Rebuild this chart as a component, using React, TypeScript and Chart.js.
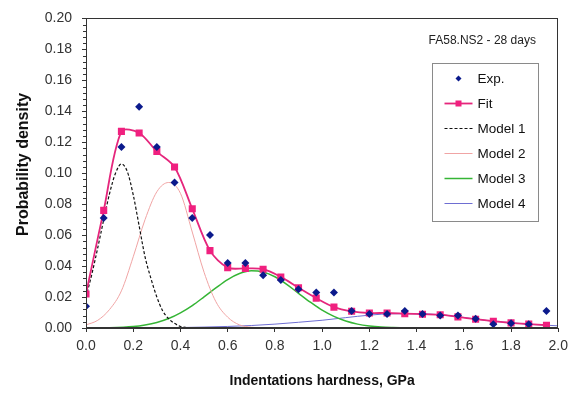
import React, { useEffect, useRef } from 'react';
import { Chart, registerables } from 'chart.js';

Chart.register(...registerables);

// ---------- data ----------
const PANEL_TITLE = 'FA58.NS2 - 28 days';
const X_TITLE = 'Indentations hardness, GPa';
const Y_TITLE = 'Probability density';

const EXP_X = [0, 0.075, 0.15, 0.225, 0.3, 0.375, 0.45, 0.525, 0.6, 0.675, 0.75, 0.825, 0.9, 0.975, 1.05, 1.125, 1.2, 1.275, 1.35, 1.425, 1.5, 1.575, 1.65, 1.725, 1.8, 1.875, 1.95];
const EXP_Y = [0.014, 0.071, 0.117, 0.143, 0.117, 0.094, 0.071, 0.060, 0.042, 0.042, 0.034, 0.031, 0.025, 0.023, 0.023, 0.011, 0.009, 0.009, 0.011, 0.009, 0.008, 0.008, 0.006, 0.0025, 0.003, 0.0025, 0.011];
const FIT_Y = [0.022, 0.076, 0.127, 0.126, 0.114, 0.104, 0.077, 0.050, 0.039, 0.0385, 0.038, 0.033, 0.026, 0.0193, 0.0135, 0.0108, 0.0097, 0.0097, 0.0093, 0.0089, 0.0086, 0.0072, 0.0057, 0.0044, 0.0033, 0.0025, 0.0018];

const M1_X = [0, 0.025, 0.05, 0.075, 0.1, 0.125, 0.15, 0.175, 0.2, 0.225, 0.25, 0.275, 0.3, 0.325, 0.35, 0.375, 0.4, 0.425, 0.45];
const M1_Y = [0.02, 0.035, 0.052, 0.07, 0.087, 0.1, 0.106, 0.101, 0.086, 0.066, 0.046, 0.032, 0.02, 0.011, 0.006, 0.003, 0.001, 0.0003, 0];

const M2_X = [0, 0.05, 0.1, 0.15, 0.2, 0.25, 0.3, 0.35, 0.4, 0.45, 0.5, 0.55, 0.6, 0.65, 0.7, 0.75];
const M2_Y = [0.002, 0.005, 0.012, 0.024, 0.046, 0.070, 0.088, 0.094, 0.087, 0.062, 0.036, 0.017, 0.007, 0.002, 0.0005, 0];

const M3_X = [0, 0.1, 0.2, 0.25, 0.3, 0.35, 0.4, 0.45, 0.5, 0.55, 0.6, 0.65, 0.7, 0.75, 0.8, 0.85, 0.9, 0.95, 1.0, 1.05, 1.1, 1.15, 1.2, 1.25, 1.3, 1.4, 1.6, 2.0];
const M3_Y = [0, 0.0002, 0.001, 0.002, 0.0036, 0.0061, 0.0098, 0.0145, 0.0201, 0.0259, 0.0313, 0.0352, 0.037, 0.0362, 0.0331, 0.0282, 0.0224, 0.0167, 0.0115, 0.0075, 0.0045, 0.0025, 0.0013, 0.0006, 0.0003, 0, 0, 0];

const M4_X = [0, 0.2, 0.4, 0.5, 0.6, 0.7, 0.8, 0.9, 1.0, 1.1, 1.2, 1.3, 1.4, 1.5, 1.6, 1.7, 1.8, 1.9, 2.0];
const M4_Y = [0, 0.0001, 0.0003, 0.0006, 0.001, 0.0016, 0.0025, 0.0037, 0.005, 0.0067, 0.0083, 0.0092, 0.0092, 0.0086, 0.0068, 0.0048, 0.0033, 0.0022, 0.0014];

const SERIES_LABELS = ['Exp.', 'Fit', 'Model 1', 'Model 2', 'Model 3', 'Model 4'];

const X_MIN = 0, X_MAX = 2, X_STEP = 0.2;
const Y_MIN = 0, Y_MAX = 0.2, Y_STEP = 0.02, Y_MINOR = 0.004;

// ---------- styling ----------
const FONT = '"Liberation Sans", Arial, sans-serif';
const AXIS = '#333333';
const EXP_COLOR = '#0b1a8c';
const FIT_LINE = '#e5267c';
const FIT_POINT = '#f0207f';
const M1_COLOR = '#111111';
const M2_COLOR = '#f0a4a4';
const M3_COLOR = '#35b535';
const M4_COLOR = '#6e6ed2';

const zip = (xs: number[], ys: number[]) => xs.map((x, i) => ({ x, y: ys[i] }));

const overlayPlugin = {
  id: 'overlay',
  afterDatasetsDraw(chart: any) {
    const { ctx, chartArea } = chart;
    const ys = chart.scales.y;
    ctx.save();
    // plot-area frame
    ctx.strokeStyle = AXIS;
    ctx.lineWidth = 1;
    ctx.strokeRect(Math.round(chartArea.left) + 0.5, Math.round(chartArea.top) + 0.5,
      Math.round(chartArea.right - chartArea.left) - 1, Math.round(chartArea.bottom - chartArea.top) - 1);
    // minor y ticks
    ctx.beginPath();
    for (let v = Y_MIN + Y_MINOR; v < Y_MAX - 1e-9; v += Y_MINOR) {
      const r = v / Y_STEP;
      if (Math.abs(r - Math.round(r)) < 1e-6) continue;
      const py = Math.round(ys.getPixelForValue(v)) + 0.5;
      ctx.moveTo(chartArea.left - 3, py);
      ctx.lineTo(chartArea.left, py);
    }
    ctx.stroke();
    // y-axis title
    ctx.save();
    ctx.translate(24, chartArea.top + 146);
    ctx.rotate(-Math.PI / 2);
    ctx.fillStyle = '#111';
    ctx.font = `bold 16px ${FONT}`;
    ctx.textAlign = 'center';
    ctx.textBaseline = 'middle';
    ctx.fillText(Y_TITLE, 0, 0);
    ctx.restore();
    // panel title
    ctx.fillStyle = '#222';
    ctx.font = `12px ${FONT}`;
    ctx.textAlign = 'center';
    ctx.textBaseline = 'middle';
    ctx.fillText(PANEL_TITLE, chartArea.right - 76, chartArea.top + 22);
    // legend
    const bx = Math.round(chartArea.right - 126) + 0.5;
    const by = Math.round(chartArea.top + 45) + 0.5;
    const bw = 106, bh = 158;
    ctx.fillStyle = '#ffffff';
    ctx.fillRect(bx, by, bw, bh);
    ctx.strokeStyle = '#8a8a8a';
    ctx.strokeRect(bx, by, bw, bh);
    ctx.font = `13.5px ${FONT}`;
    ctx.textAlign = 'left';
    chart.data.datasets.forEach((ds: any, i: number) => {
      const y = by + 15 + i * 25;
      const x0 = bx + 12, x1 = bx + 40, xc = (x0 + x1) / 2;
      if (ds.showLine !== false) {
        ctx.save();
        ctx.strokeStyle = ds.borderColor;
        ctx.lineWidth = ds.borderWidth;
        ctx.setLineDash(ds.borderDash || []);
        ctx.beginPath();
        ctx.moveTo(x0, y);
        ctx.lineTo(x1, y);
        ctx.stroke();
        ctx.restore();
      }
      if (ds.pointRadius > 0) {
        ctx.fillStyle = ds.pointBackgroundColor;
        if (ds.pointStyle === 'rectRot') {
          const r = 3;
          ctx.beginPath();
          ctx.moveTo(xc - r, y);
          ctx.lineTo(xc, y - r);
          ctx.lineTo(xc + r, y);
          ctx.lineTo(xc, y + r);
          ctx.closePath();
          ctx.fill();
        } else {
          ctx.fillRect(xc - 3, y - 3, 6, 6);
        }
      }
      ctx.fillStyle = '#111';
      ctx.fillText(ds.label, bx + 45, y + 1);
    });
    ctx.restore();
  },
};

export default function App() {
  const ref = useRef<HTMLCanvasElement | null>(null);

  useEffect(() => {
    if (!ref.current) return;
    const chart = new Chart(ref.current, {
      type: 'scatter',
      data: {
        datasets: [
          {
            label: SERIES_LABELS[0],
            data: zip(EXP_X, EXP_Y),
            showLine: false,
            pointStyle: 'rectRot',
            pointRadius: 4,
            pointBackgroundColor: EXP_COLOR,
            pointBorderColor: EXP_COLOR,
            pointBorderWidth: 0,
            borderColor: EXP_COLOR,
            backgroundColor: EXP_COLOR,
          },
          {
            label: SERIES_LABELS[1],
            data: zip(EXP_X, FIT_Y),
            showLine: true,
            tension: 0.3,
            borderColor: FIT_LINE,
            borderWidth: 1.8,
            pointStyle: 'rect',
            pointRadius: 5,
            pointBackgroundColor: FIT_POINT,
            pointBorderColor: FIT_POINT,
            pointBorderWidth: 0,
            backgroundColor: FIT_POINT,
          },
          {
            label: SERIES_LABELS[2],
            data: zip(M1_X, M1_Y),
            showLine: true,
            cubicInterpolationMode: 'monotone',
            borderColor: M1_COLOR,
            borderWidth: 1.2,
            borderDash: [3, 2],
            pointRadius: 0,
          },
          {
            label: SERIES_LABELS[3],
            data: zip(M2_X, M2_Y),
            showLine: true,
            cubicInterpolationMode: 'monotone',
            borderColor: M2_COLOR,
            borderWidth: 1,
            pointRadius: 0,
          },
          {
            label: SERIES_LABELS[4],
            data: zip(M3_X, M3_Y),
            showLine: true,
            cubicInterpolationMode: 'monotone',
            borderColor: M3_COLOR,
            borderWidth: 1.5,
            pointRadius: 0,
          },
          {
            label: SERIES_LABELS[5],
            data: zip(M4_X, M4_Y),
            showLine: true,
            cubicInterpolationMode: 'monotone',
            borderColor: M4_COLOR,
            borderWidth: 1,
            pointRadius: 0,
          },
        ] as any,
      },
      options: {
        animation: false,
        responsive: false,
        devicePixelRatio: 1,
        layout: { padding: { left: 0, right: 15, top: 12, bottom: 0 } },
        plugins: {
          legend: { display: false },
          tooltip: { enabled: false },
        },
        scales: {
          x: {
            type: 'linear',
            min: X_MIN,
            max: X_MAX,
            ticks: {
              stepSize: X_STEP,
              callback: (v: any) => Number(v).toFixed(1),
              font: { family: FONT, size: 14 },
              color: '#333',
              padding: 6,
              maxRotation: 0,
              autoSkip: false,
            },
            grid: { drawOnChartArea: false, drawTicks: true, tickLength: 4, color: AXIS },
            border: { display: true, color: AXIS },
            title: {
              display: true,
              text: X_TITLE,
              font: { family: FONT, size: 14, weight: 'bold' },
              color: '#111',
              padding: { top: 0, bottom: 9 },
            },
            afterFit: (s: any) => { s.height = 71; },
          },
          y: {
            type: 'linear',
            min: Y_MIN,
            max: Y_MAX,
            ticks: {
              stepSize: Y_STEP,
              callback: (v: any) => Number(v).toFixed(2),
              font: { family: FONT, size: 14 },
              color: '#333',
              padding: 10,
              autoSkip: false,
            },
            grid: { drawOnChartArea: false, drawTicks: true, tickLength: 4, color: AXIS },
            border: { display: true, color: AXIS },
            title: { display: false },
            afterFit: (s: any) => { s.width = 86; },
          },
        },
      } as any,
      plugins: [overlayPlugin],
    });
    return () => chart.destroy();
  }, []);

  return (
    <div style={{ position: 'fixed', left: 0, top: 0, width: 574, height: 399, background: '#fff' }}>
      <canvas ref={ref} width={574} height={399} style={{ width: 574, height: 399 }} />
    </div>
  );
}
